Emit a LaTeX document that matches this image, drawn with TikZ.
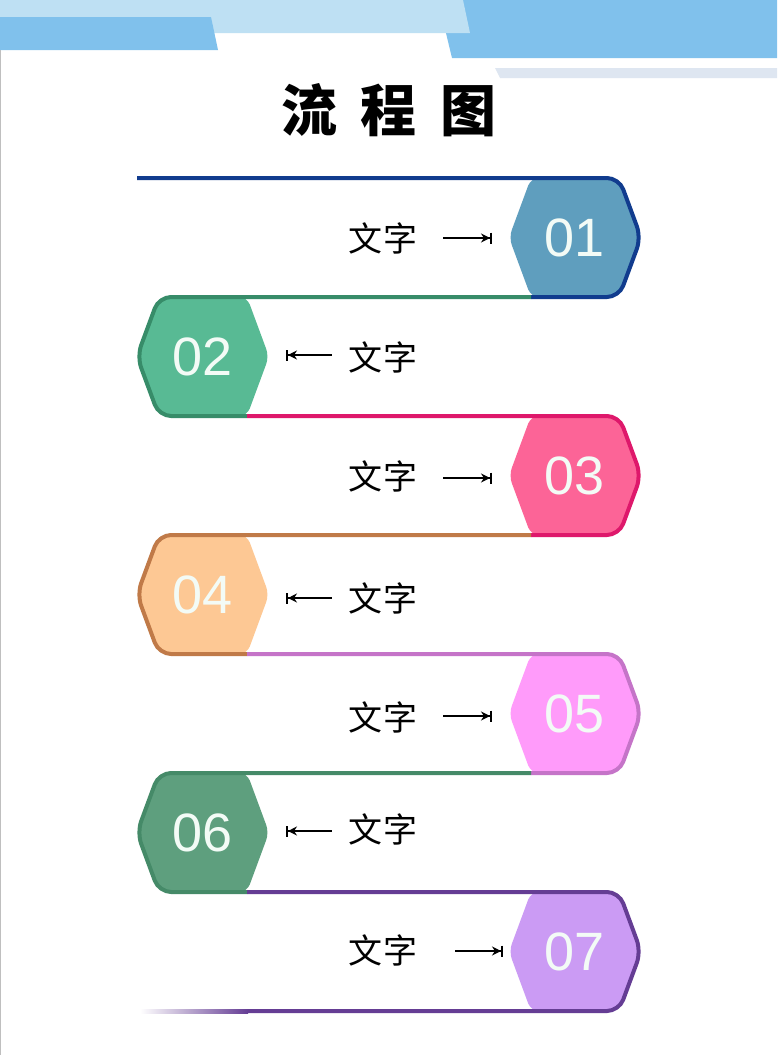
\documentclass[tikz,border=0pt]{standalone}
\usepackage{fontspec}
\setmainfont{Liberation Sans}
\newfontfamily\cjk{Noto Sans CJK SC}
\usetikzlibrary{arrows.meta}
\definecolor{hdrmid}{HTML}{80C1EC}
\definecolor{hdrlight}{HTML}{BEE0F3}
\definecolor{hdrfaint}{HTML}{DEE6F1}
\definecolor{fA}{HTML}{5F9EBE}\definecolor{oA}{HTML}{113C8E}
\definecolor{fB}{HTML}{58BA94}\definecolor{oB}{HTML}{378C69}
\definecolor{fC}{HTML}{FC6497}\definecolor{oC}{HTML}{DE186B}
\definecolor{fD}{HTML}{FDC894}\definecolor{oD}{HTML}{C07A48}
\definecolor{fE}{HTML}{FF9BFA}\definecolor{oE}{HTML}{C574C8}
\definecolor{fF}{HTML}{5E9F7E}\definecolor{oF}{HTML}{458A68}
\definecolor{fG}{HTML}{CB9BF4}\definecolor{oG}{HTML}{653D94}
\definecolor{numcol}{HTML}{F3FBF6}
% hexagon path: centre x, centre y
\def\hexat#1#2{(#1-66,#2) -- (#1-44,#2-59.5) -- (#1+44,#2-59.5) -- (#1+66,#2) -- (#1+44,#2+59.5) -- (#1-44,#2+59.5) -- cycle}
\tikzset{
  hexfill/.style={rounded corners=8pt},
  rim/.style={line width=4pt, rounded corners=12pt},
  num/.style={font=\fontsize{54}{54}\selectfont, text=numcol, inner sep=0pt},
  lbl/.style={font=\cjk\fontsize{34}{34}\selectfont, inner sep=0pt},
  arr/.style={line width=2pt, -{Stealth[length=9pt,width=9pt] Bar[width=11pt,line width=2pt]}},
  ttl/.style={font=\cjk\bfseries\fontsize{56}{56}\selectfont, inner sep=0pt}
}
\begin{document}
\begin{tikzpicture}[x=1pt,y=-1pt]
\useasboundingbox (0,0) rectangle (777,1055);
\fill[white] (0,0) rectangle (777,1055);
% header bands
\fill[hdrmid] (438,0) -- (777,0) -- (777,58) -- (452,58) -- cycle;
\fill[hdrlight] (0,0) -- (463,0) -- (470,33) -- (0,33) -- cycle;
\fill[hdrmid] (0,17) -- (211,17) -- (218,50) -- (0,50) -- cycle;
\fill[hdrfaint] (495,68) -- (777,68) -- (777,78) -- (500,78) -- cycle;
\draw[black!25, line width=1pt] (0.5,50) -- (0.5,1055);
% title
\node[ttl] (title) at (389,110) {流\hspace{24pt}程\hspace{24pt}图};
% hexagon fills
\fill[fA, hexfill] \hexat{575}{237.5};
\fill[fB, hexfill] \hexat{203}{356.5};
\fill[fC, hexfill] \hexat{575}{475.5};
\fill[fD, hexfill] \hexat{203}{594.5};
\fill[fE, hexfill] \hexat{575}{713.5};
\fill[fF, hexfill] \hexat{203}{832.5};
\fill[fG, hexfill] \hexat{575}{951.5};
% rims
\draw[oA, rim] (137,178) -- (619,178) -- (641,237.5) -- (619,297) -- (531,297);
\draw[oB, rim] (531,297) -- (159,297) -- (137,356.5) -- (159,416) -- (247,416);
\draw[oC, rim] (247,416) -- (619,416) -- (641,475.5) -- (619,535) -- (531,535);
\draw[oD, rim] (531,535) -- (159,535) -- (137,594.5) -- (159,654) -- (247,654);
\draw[oE, rim] (247,654) -- (619,654) -- (641,713.5) -- (619,773) -- (531,773);
\draw[oF, rim] (531,773) -- (159,773) -- (137,832.5) -- (159,892) -- (247,892);
\draw[oG, rim] (247,892) -- (619,892) -- (641,951.5) -- (619,1011) -- (247,1011);
\shade[left color=white, right color=oG] (140,1009) rectangle (248,1013);
% numbers
\node[num] (n1) at (575,238) {01};
\node[num] (n2) at (203,357) {02};
\node[num] (n3) at (575,476) {03};
\node[num] (n4) at (203,595) {04};
\node[num] (n5) at (575,714) {05};
\node[num] (n6) at (203,833) {06};
\node[num] (n7) at (575,952) {07};
% labels
\node[lbl] (t1) at (383,238) {文\hspace{2pt}字};
\node[lbl] (t2) at (383,357) {文\hspace{2pt}字};
\node[lbl] (t3) at (383,476) {文\hspace{2pt}字};
\node[lbl] (t4) at (383,598) {文\hspace{2pt}字};
\node[lbl] (t5) at (383,717) {文\hspace{2pt}字};
\node[lbl] (t6) at (383,829) {文\hspace{2pt}字};
\node[lbl] (t7) at (383,950) {文\hspace{2pt}字};
% arrow targets
\coordinate (a1) at (492,238);
\coordinate (a2) at (286,355);
\coordinate (a3) at (492,478);
\coordinate (a4) at (286,598);
\coordinate (a5) at (492,716);
\coordinate (a6) at (286,831);
\coordinate (a7) at (503,951);
\draw[arr] ([xshift=25pt]t1.east |- a1) -- (a1);
\draw[arr] ([xshift=-16pt]t2.west |- a2) -- (a2);
\draw[arr] ([xshift=25pt]t3.east |- a3) -- (a3);
\draw[arr] ([xshift=-16pt]t4.west |- a4) -- (a4);
\draw[arr] ([xshift=25pt]t5.east |- a5) -- (a5);
\draw[arr] ([xshift=-16pt]t6.west |- a6) -- (a6);
\draw[arr] ([xshift=37pt]t7.east |- a7) -- (a7);
\end{tikzpicture}
\end{document}
